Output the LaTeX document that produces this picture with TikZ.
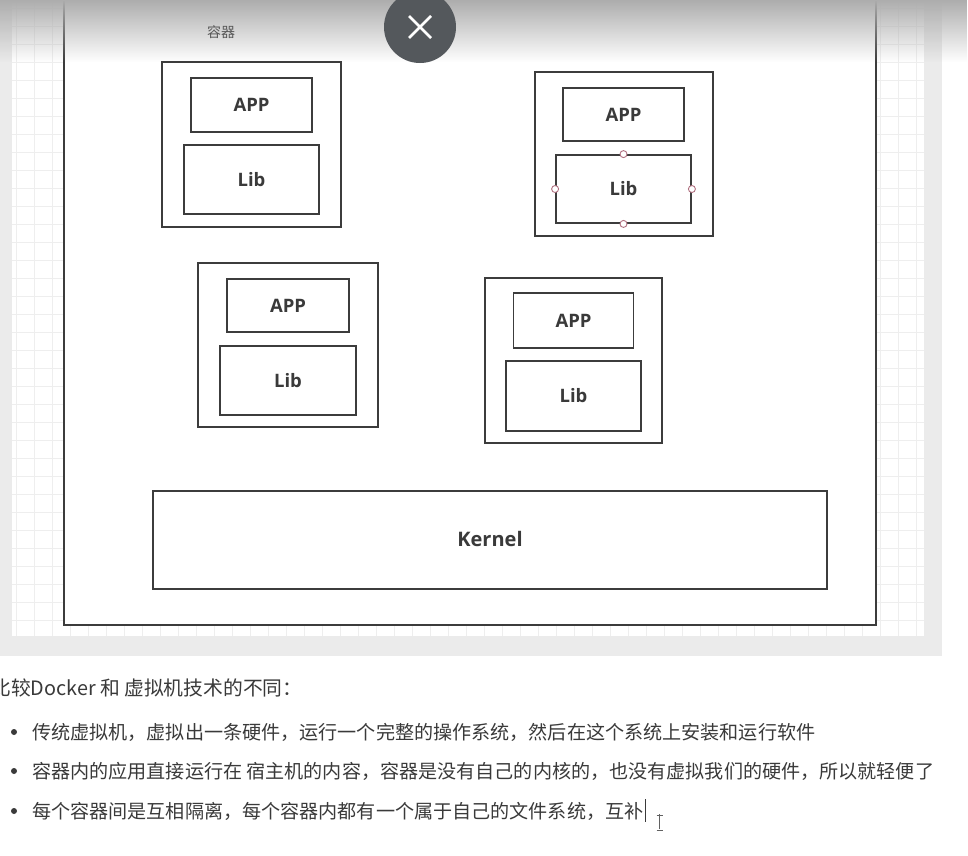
\documentclass[tikz,border=0pt]{standalone}
\usepackage{fontspec}
\usetikzlibrary{fadings}
\newfontfamily\labfont{Open Sans}
\newfontfamily\cjk{Noto Sans CJK SC}
\definecolor{panel}{HTML}{EBEBEB}
\definecolor{gridc}{HTML}{EEEEEE}
\definecolor{edge}{HTML}{3C3C3C}
\definecolor{txt}{HTML}{3A3A3A}
\definecolor{btn}{HTML}{54585C}
\definecolor{handle}{HTML}{B07080}
\tikzfading[name=fadetop, top color=transparent!0, bottom color=transparent!100]
\tikzset{
  box/.style={draw=edge, line width=1.8pt, fill=white, inner sep=0pt},
  boxlabel/.style={font=\labfont\bfseries\fontsize{18.5}{22}\selectfont, text=txt},
  handlec/.style={circle, draw=handle, fill=white, line width=0.9pt, minimum size=7pt, inner sep=0pt},
  bodytext/.style={anchor=west, inner sep=0pt, text=txt, font=\cjk\fontsize{19.1}{23}\selectfont},
  bulletdot/.style={circle, fill=txt, minimum size=6pt, inner sep=0pt}
}
\begin{document}
\begin{tikzpicture}[x=1pt,y=-1pt]
\useasboundingbox (0,0) rectangle (968,855);
\fill[white] (0,0) rectangle (968,855);
% panel and grid
\fill[panel] (0,0) rectangle (942,656);
\fill[white] (12,0) rectangle (924,636);
\foreach \gx in {16,34,...,922} \draw[gridc, line width=0.8pt] (\gx,0) -- (\gx,636);
\foreach \gy in {8,26,...,635} \draw[gridc, line width=0.8pt] (12,\gy) -- (924,\gy);
% outer frame
\node[box, minimum width=812pt, minimum height=626pt, anchor=north west] (frame) at (63,-2) {};
% top shadow
\fill[black!32, path fading=fadetop] (0,0) rectangle (968,62);
% title
\node[font=\cjk\fontsize{14}{16}\selectfont, text=txt!85] (title) at (221,32) {容器};
% containers
\node[box, minimum width=179pt, minimum height=165pt] (c1) at (251.5,144.5) {};
\node[box, minimum width=121pt, minimum height=54pt] (app1) at (251.5,105) {};
\node[boxlabel] at (app1) {APP};
\node[box, minimum width=135pt, minimum height=69pt] (lib1) at (251.5,179.5) {};
\node[boxlabel] at (lib1) {Lib};

\node[box, minimum width=178pt, minimum height=164pt] (c2) at (624,154) {};
\node[box, minimum width=121pt, minimum height=53pt] (app2) at (623.5,114.5) {};
\node[boxlabel] at (app2) {APP};
\node[box, minimum width=135pt, minimum height=68pt] (lib2) at (623.5,189) {};
\node[boxlabel] at (lib2) {Lib};
\foreach \a in {north,south,east,west} \node[handlec] at (lib2.\a) {};

\node[box, minimum width=180pt, minimum height=164pt] (c3) at (288,345) {};
\node[box, minimum width=122pt, minimum height=53pt] (app3) at (288,305.5) {};
\node[boxlabel] at (app3) {APP};
\node[box, minimum width=136pt, minimum height=69pt] (lib3) at (288,380.5) {};
\node[boxlabel] at (lib3) {Lib};

\node[box, minimum width=177pt, minimum height=165pt] (c4) at (573.5,360.5) {};
\node[box, minimum width=120pt, minimum height=55pt] (app4) at (573.5,320.5) {};
\node[boxlabel] at (app4) {APP};
\node[box, minimum width=135pt, minimum height=70pt] (lib4) at (573.5,396) {};
\node[boxlabel] at (lib4) {Lib};

% kernel
\node[box, minimum width=674pt, minimum height=98pt] (kernel) at (490,540) {};
\node[boxlabel, font=\labfont\bfseries\fontsize{20}{24}\selectfont] at ([yshift=1]kernel.center) {Kernel};

% close button
\node[circle, fill=btn, minimum size=72pt, inner sep=0pt] (close) at (420,27) {};
\draw[white, line width=2.6pt] ([shift={(-11,-11)}]close.center) -- ([shift={(11,11)}]close.center);
\draw[white, line width=2.6pt] ([shift={(-11,11)}]close.center) -- ([shift={(11,-11)}]close.center);

% text
\node[bodytext, font=\cjk\fontsize{19.8}{23}\selectfont] (head) at (-9,688) {比较Docker 和 虚拟机技术的不同：};
\node[bulletdot] (b1) at (14,732) {};
\node[bodytext] (t1) at (32,732) {传统虚拟机，虚拟出一条硬件，运行一个完整的操作系统，然后在这个系统上安装和运行软件};
\node[bulletdot] (b2) at (14,771) {};
\node[bodytext] (t2) at (32,771) {容器内的应用直接运行在 宿主机的内容，容器是没有自己的内核的，也没有虚拟我们的硬件，所以就轻便了};
\node[bulletdot] (b3) at (14,811) {};
\node[bodytext] (t3) at (32,811) {每个容器间是互相隔离，每个容器内都有一个属于自己的文件系统，互补};
% text cursor and mouse I-beam
\coordinate (cur) at ([xshift=2pt]t3.east);
\draw[txt, line width=1pt] (cur |- 0,799) -- (cur |- 0,822);
\coordinate (ib) at ([xshift=14pt]cur |- 0,822);
\draw[txt!80, line width=1.2pt] ([yshift=-7]ib) -- ([yshift=8]ib);
\draw[txt!80, line width=1pt] ([shift={(-3,-7)}]ib) -- ([shift={(3,-7)}]ib);
\draw[txt!80, line width=1pt] ([shift={(-3,8)}]ib) -- ([shift={(3,8)}]ib);
\end{tikzpicture}
\end{document}
